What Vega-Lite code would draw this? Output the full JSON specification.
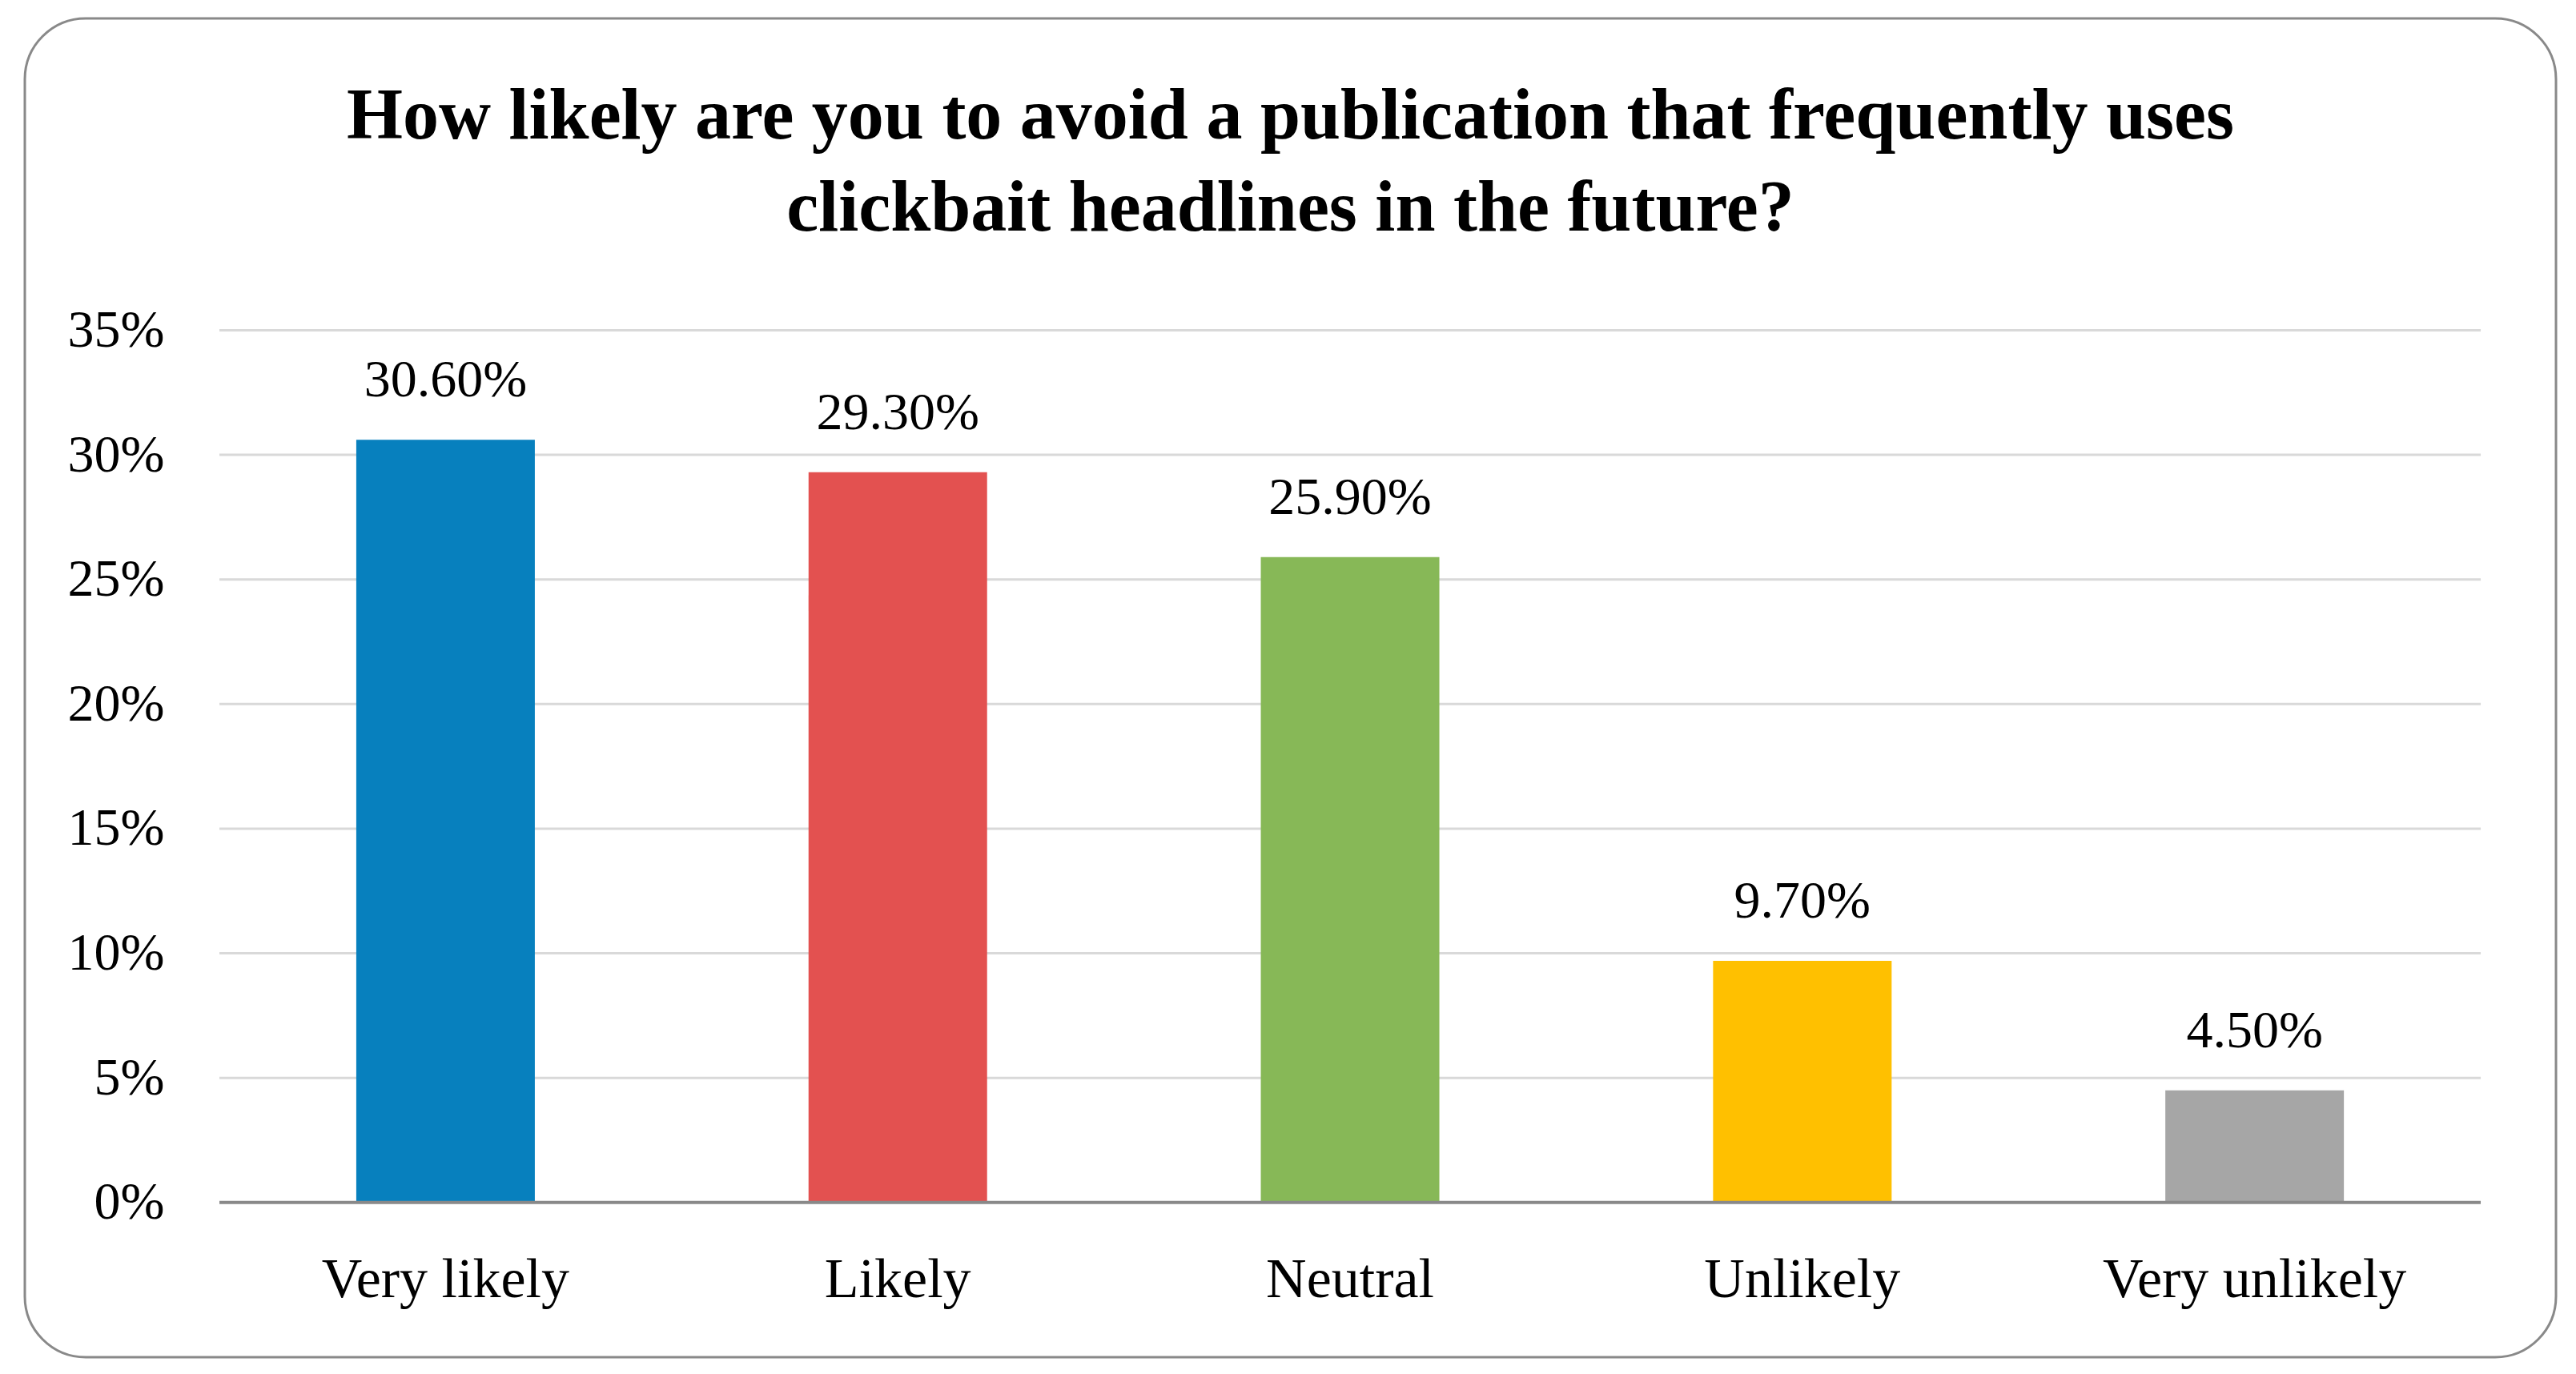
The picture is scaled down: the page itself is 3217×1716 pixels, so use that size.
{
  "$schema": "https://vega.github.io/schema/vega-lite/v6.json",
  "width": 3161,
  "height": 1672,
  "autosize": {"type": "none"},
  "padding": {"left": 31, "top": 23, "right": 25, "bottom": 21},
  "background": "white",
  "config": {
    "view": {"stroke": "#898989", "strokeWidth": 3, "cornerRadius": 76},
    "font": "Liberation Serif",
    "axis": {"labelFont": "Liberation Serif", "labelColor": "#000000", "domain": false, "ticks": false, "tickSize": 0, "grid": false, "labelLimit": 0}
  },
  "title": {
    "text": ["How likely are you to avoid a publication that frequently uses", "clickbait headlines in the future?"],
    "font": "Liberation Serif",
    "fontSize": 90,
    "fontWeight": "bold",
    "color": "#000000",
    "lineHeight": 115,
    "baseline": "top",
    "offset": -284,
    "anchor": "middle"
  },
  "datasets": {
    "bars": [
      {"category": "Very likely", "value": 0.306},
      {"category": "Likely", "value": 0.293},
      {"category": "Neutral", "value": 0.259},
      {"category": "Unlikely", "value": 0.097},
      {"category": "Very unlikely", "value": 0.045}
    ],
    "grid": [
      {"v": 0.05}, {"v": 0.10}, {"v": 0.15}, {"v": 0.20}, {"v": 0.25}, {"v": 0.30}, {"v": 0.35}
    ],
    "base": [{"v": 0}]
  },
  "layer": [
    {
      "data": {"name": "grid"},
      "mark": {"type": "rule", "color": "#d9d9d9", "strokeWidth": 3},
      "encoding": {
        "y": {"field": "v", "type": "quantitative", "title": null,
          "scale": {"domain": [-0.06207, 0.4751], "nice": false}},
        "x": {"datum": "Very likely", "type": "nominal", "bandPosition": -0.7664, "title": null,
          "scale": {"domain": ["Very likely", "Likely", "Neutral", "Unlikely", "Very unlikely"], "paddingInner": 0.6052, "paddingOuter": 0.6009, "align": 0.6098}},
        "x2": {"datum": "Very unlikely", "bandPosition": 1.7664}
      }
    },
    {
      "data": {"name": "bars"},
      "mark": {"type": "bar"},
      "encoding": {
        "x": {"field": "category", "type": "nominal", "sort": null, "title": null,
          "scale": {"domain": ["Very likely", "Likely", "Neutral", "Unlikely", "Very unlikely"], "paddingInner": 0.6052, "paddingOuter": 0.6009, "align": 0.6098},
          "axis": {"labelAngle": 0, "labelAlign": "center", "labelFontSize": 70, "labelBaseline": "alphabetic", "labelPadding": 118, "offset": -193.2, "labelLimit": 0}},
        "y": {"field": "value", "type": "quantitative", "title": null,
          "scale": {"domain": [-0.06207, 0.4751], "nice": false},
          "axis": {"values": [0, 0.05, 0.1, 0.15, 0.2, 0.25, 0.3, 0.35], "format": ".0%", "labelFontSize": 66, "labelBaseline": "middle", "labelPadding": 69, "offset": -243}},
        "color": {"field": "category", "type": "nominal", "legend": null,
          "scale": {"domain": ["Very likely", "Likely", "Neutral", "Unlikely", "Very unlikely"], "range": ["#0780BE", "#E35150", "#87B857", "#FFC000", "#A6A6A6"]}}
      }
    },
    {
      "data": {"name": "bars"},
      "mark": {"type": "text", "baseline": "alphabetic", "dy": -54, "fontSize": 66, "font": "Liberation Serif", "color": "#000000"},
      "encoding": {
        "x": {"field": "category", "type": "nominal", "sort": null, "title": null},
        "y": {"field": "value", "type": "quantitative", "title": null},
        "text": {"field": "value", "type": "quantitative", "format": ".2%"}
      }
    },
    {
      "data": {"name": "base"},
      "mark": {"type": "rule", "color": "#898989", "strokeWidth": 4},
      "encoding": {
        "y": {"field": "v", "type": "quantitative", "title": null},
        "x": {"datum": "Very likely", "type": "nominal", "bandPosition": -0.7664, "title": null},
        "x2": {"datum": "Very unlikely", "bandPosition": 1.7664}
      }
    }
  ]
}
